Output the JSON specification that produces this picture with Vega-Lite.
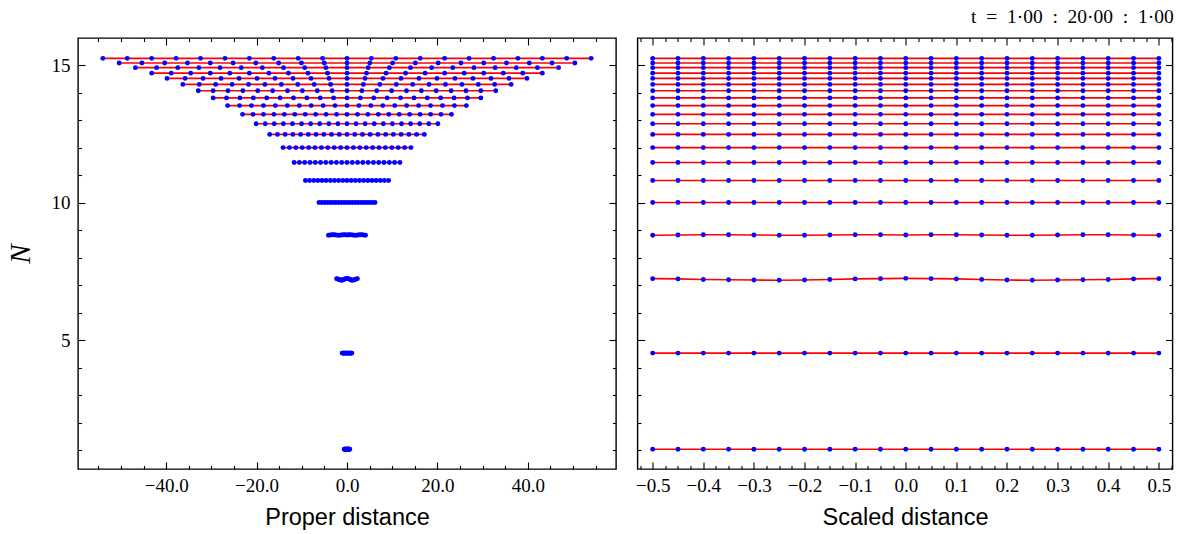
{
  "$schema": "https://vega.github.io/schema/vega-lite/v6.json",
  "padding": {"left": 5, "top": 6, "right": 6, "bottom": 4},
  "background": "white",
  "title": {"text": "t\u2002=\u20021·00\u2002:\u200220·00\u2002:\u20021·00", "anchor": "end", "font": "Liberation Serif", "fontSize": 19.5, "fontWeight": "normal", "color": "#000", "offset": 9.5},
  "config": {
    "view": {"stroke": "#000", "strokeWidth": 1.4},
    "axis": {"domain": false, "grid": false, "tickColor": "#000", "tickWidth": 1.1, "labelColor": "#000", "labelFont": "Liberation Serif", "labelFontSize": 19, "labelOverlap": false, "labelFlush": false, "titleColor": "#000"}
  },
  "data": {"values": [
    {"t":1,"s":-0.5,"p":-0.6,"n":1.03},{"t":1,"s":-0.45,"p":-0.54,"n":1.03},{"t":1,"s":-0.4,"p":-0.48,"n":1.03},{"t":1,"s":-0.35,"p":-0.42,"n":1.03},{"t":1,"s":-0.3,"p":-0.36,"n":1.03},{"t":1,"s":-0.25,"p":-0.3,"n":1.03},{"t":1,"s":-0.2,"p":-0.24,"n":1.03},{"t":1,"s":-0.15,"p":-0.18,"n":1.03},{"t":1,"s":-0.1,"p":-0.12,"n":1.03},{"t":1,"s":-0.05,"p":-0.06,"n":1.03},{"t":1,"s":0,"p":0,"n":1.03},{"t":1,"s":0.05,"p":0.06,"n":1.03},{"t":1,"s":0.1,"p":0.12,"n":1.03},{"t":1,"s":0.15,"p":0.18,"n":1.03},{"t":1,"s":0.2,"p":0.24,"n":1.03},{"t":1,"s":0.25,"p":0.3,"n":1.03},{"t":1,"s":0.3,"p":0.36,"n":1.03},{"t":1,"s":0.35,"p":0.42,"n":1.03},{"t":1,"s":0.4,"p":0.48,"n":1.03},{"t":1,"s":0.45,"p":0.54,"n":1.03},{"t":1,"s":0.5,"p":0.6,"n":1.03},
    {"t":2,"s":-0.5,"p":-1.07,"n":4.53},{"t":2,"s":-0.45,"p":-0.963,"n":4.53},{"t":2,"s":-0.4,"p":-0.856,"n":4.53},{"t":2,"s":-0.35,"p":-0.749,"n":4.53},{"t":2,"s":-0.3,"p":-0.642,"n":4.53},{"t":2,"s":-0.25,"p":-0.535,"n":4.53},{"t":2,"s":-0.2,"p":-0.428,"n":4.53},{"t":2,"s":-0.15,"p":-0.321,"n":4.53},{"t":2,"s":-0.1,"p":-0.214,"n":4.53},{"t":2,"s":-0.05,"p":-0.107,"n":4.53},{"t":2,"s":0,"p":0,"n":4.53},{"t":2,"s":0.05,"p":0.107,"n":4.53},{"t":2,"s":0.1,"p":0.214,"n":4.53},{"t":2,"s":0.15,"p":0.321,"n":4.53},{"t":2,"s":0.2,"p":0.428,"n":4.53},{"t":2,"s":0.25,"p":0.535,"n":4.53},{"t":2,"s":0.3,"p":0.642,"n":4.53},{"t":2,"s":0.35,"p":0.749,"n":4.53},{"t":2,"s":0.4,"p":0.856,"n":4.53},{"t":2,"s":0.45,"p":0.963,"n":4.53},{"t":2,"s":0.5,"p":1.07,"n":4.53},
    {"t":3,"s":-0.5,"p":-2.3,"n":7.24},{"t":3,"s":-0.45,"p":-2.07,"n":7.23},{"t":3,"s":-0.4,"p":-1.84,"n":7.21},{"t":3,"s":-0.35,"p":-1.61,"n":7.2},{"t":3,"s":-0.3,"p":-1.38,"n":7.19},{"t":3,"s":-0.25,"p":-1.15,"n":7.18},{"t":3,"s":-0.2,"p":-0.92,"n":7.19},{"t":3,"s":-0.15,"p":-0.69,"n":7.21},{"t":3,"s":-0.1,"p":-0.46,"n":7.23},{"t":3,"s":-0.05,"p":-0.23,"n":7.24},{"t":3,"s":0,"p":0,"n":7.25},{"t":3,"s":0.05,"p":0.23,"n":7.24},{"t":3,"s":0.1,"p":0.46,"n":7.23},{"t":3,"s":0.15,"p":0.69,"n":7.21},{"t":3,"s":0.2,"p":0.92,"n":7.19},{"t":3,"s":0.25,"p":1.15,"n":7.18},{"t":3,"s":0.3,"p":1.38,"n":7.19},{"t":3,"s":0.35,"p":1.61,"n":7.2},{"t":3,"s":0.4,"p":1.84,"n":7.21},{"t":3,"s":0.45,"p":2.07,"n":7.23},{"t":3,"s":0.5,"p":2.3,"n":7.24},
    {"t":4,"s":-0.5,"p":-4.1,"n":8.82},{"t":4,"s":-0.45,"p":-3.69,"n":8.83},{"t":4,"s":-0.4,"p":-3.28,"n":8.84},{"t":4,"s":-0.35,"p":-2.87,"n":8.84},{"t":4,"s":-0.3,"p":-2.46,"n":8.83},{"t":4,"s":-0.25,"p":-2.05,"n":8.82},{"t":4,"s":-0.2,"p":-1.64,"n":8.82},{"t":4,"s":-0.15,"p":-1.23,"n":8.83},{"t":4,"s":-0.1,"p":-0.82,"n":8.84},{"t":4,"s":-0.05,"p":-0.41,"n":8.84},{"t":4,"s":0,"p":0,"n":8.83},{"t":4,"s":0.05,"p":0.41,"n":8.84},{"t":4,"s":0.1,"p":0.82,"n":8.84},{"t":4,"s":0.15,"p":1.23,"n":8.83},{"t":4,"s":0.2,"p":1.64,"n":8.82},{"t":4,"s":0.25,"p":2.05,"n":8.82},{"t":4,"s":0.3,"p":2.46,"n":8.83},{"t":4,"s":0.35,"p":2.87,"n":8.84},{"t":4,"s":0.4,"p":3.28,"n":8.84},{"t":4,"s":0.45,"p":3.69,"n":8.83},{"t":4,"s":0.5,"p":4.1,"n":8.82},
    {"t":5,"s":-0.5,"p":-6.2,"n":10.01},{"t":5,"s":-0.45,"p":-5.58,"n":10.01},{"t":5,"s":-0.4,"p":-4.96,"n":10.01},{"t":5,"s":-0.35,"p":-4.34,"n":10.01},{"t":5,"s":-0.3,"p":-3.72,"n":10.01},{"t":5,"s":-0.25,"p":-3.1,"n":10.01},{"t":5,"s":-0.2,"p":-2.48,"n":10.01},{"t":5,"s":-0.15,"p":-1.86,"n":10.01},{"t":5,"s":-0.1,"p":-1.24,"n":10.01},{"t":5,"s":-0.05,"p":-0.62,"n":10.01},{"t":5,"s":0,"p":0,"n":10.01},{"t":5,"s":0.05,"p":0.62,"n":10.01},{"t":5,"s":0.1,"p":1.24,"n":10.01},{"t":5,"s":0.15,"p":1.86,"n":10.01},{"t":5,"s":0.2,"p":2.48,"n":10.01},{"t":5,"s":0.25,"p":3.1,"n":10.01},{"t":5,"s":0.3,"p":3.72,"n":10.01},{"t":5,"s":0.35,"p":4.34,"n":10.01},{"t":5,"s":0.4,"p":4.96,"n":10.01},{"t":5,"s":0.45,"p":5.58,"n":10.01},{"t":5,"s":0.5,"p":6.2,"n":10.01},
    {"t":6,"s":-0.5,"p":-9.2,"n":10.81},{"t":6,"s":-0.45,"p":-8.28,"n":10.81},{"t":6,"s":-0.4,"p":-7.36,"n":10.81},{"t":6,"s":-0.35,"p":-6.44,"n":10.81},{"t":6,"s":-0.3,"p":-5.52,"n":10.81},{"t":6,"s":-0.25,"p":-4.6,"n":10.81},{"t":6,"s":-0.2,"p":-3.68,"n":10.81},{"t":6,"s":-0.15,"p":-2.76,"n":10.81},{"t":6,"s":-0.1,"p":-1.84,"n":10.81},{"t":6,"s":-0.05,"p":-0.92,"n":10.81},{"t":6,"s":0,"p":0,"n":10.81},{"t":6,"s":0.05,"p":0.92,"n":10.81},{"t":6,"s":0.1,"p":1.84,"n":10.81},{"t":6,"s":0.15,"p":2.76,"n":10.81},{"t":6,"s":0.2,"p":3.68,"n":10.81},{"t":6,"s":0.25,"p":4.6,"n":10.81},{"t":6,"s":0.3,"p":5.52,"n":10.81},{"t":6,"s":0.35,"p":6.44,"n":10.81},{"t":6,"s":0.4,"p":7.36,"n":10.81},{"t":6,"s":0.45,"p":8.28,"n":10.81},{"t":6,"s":0.5,"p":9.2,"n":10.81},
    {"t":7,"s":-0.5,"p":-11.7,"n":11.47},{"t":7,"s":-0.45,"p":-10.53,"n":11.47},{"t":7,"s":-0.4,"p":-9.36,"n":11.47},{"t":7,"s":-0.35,"p":-8.19,"n":11.47},{"t":7,"s":-0.3,"p":-7.02,"n":11.47},{"t":7,"s":-0.25,"p":-5.85,"n":11.47},{"t":7,"s":-0.2,"p":-4.68,"n":11.47},{"t":7,"s":-0.15,"p":-3.51,"n":11.47},{"t":7,"s":-0.1,"p":-2.34,"n":11.47},{"t":7,"s":-0.05,"p":-1.17,"n":11.47},{"t":7,"s":0,"p":0,"n":11.47},{"t":7,"s":0.05,"p":1.17,"n":11.47},{"t":7,"s":0.1,"p":2.34,"n":11.47},{"t":7,"s":0.15,"p":3.51,"n":11.47},{"t":7,"s":0.2,"p":4.68,"n":11.47},{"t":7,"s":0.25,"p":5.85,"n":11.47},{"t":7,"s":0.3,"p":7.02,"n":11.47},{"t":7,"s":0.35,"p":8.19,"n":11.47},{"t":7,"s":0.4,"p":9.36,"n":11.47},{"t":7,"s":0.45,"p":10.53,"n":11.47},{"t":7,"s":0.5,"p":11.7,"n":11.47},
    {"t":8,"s":-0.5,"p":-14.15,"n":12.01},{"t":8,"s":-0.45,"p":-12.74,"n":12.01},{"t":8,"s":-0.4,"p":-11.32,"n":12.01},{"t":8,"s":-0.35,"p":-9.91,"n":12.01},{"t":8,"s":-0.3,"p":-8.49,"n":12.01},{"t":8,"s":-0.25,"p":-7.08,"n":12.01},{"t":8,"s":-0.2,"p":-5.66,"n":12.01},{"t":8,"s":-0.15,"p":-4.25,"n":12.01},{"t":8,"s":-0.1,"p":-2.83,"n":12.01},{"t":8,"s":-0.05,"p":-1.42,"n":12.01},{"t":8,"s":0,"p":0,"n":12.01},{"t":8,"s":0.05,"p":1.42,"n":12.01},{"t":8,"s":0.1,"p":2.83,"n":12.01},{"t":8,"s":0.15,"p":4.25,"n":12.01},{"t":8,"s":0.2,"p":5.66,"n":12.01},{"t":8,"s":0.25,"p":7.08,"n":12.01},{"t":8,"s":0.3,"p":8.49,"n":12.01},{"t":8,"s":0.35,"p":9.91,"n":12.01},{"t":8,"s":0.4,"p":11.32,"n":12.01},{"t":8,"s":0.45,"p":12.74,"n":12.01},{"t":8,"s":0.5,"p":14.15,"n":12.01},
    {"t":9,"s":-0.5,"p":-17.1,"n":12.49},{"t":9,"s":-0.45,"p":-15.39,"n":12.49},{"t":9,"s":-0.4,"p":-13.68,"n":12.49},{"t":9,"s":-0.35,"p":-11.97,"n":12.49},{"t":9,"s":-0.3,"p":-10.26,"n":12.49},{"t":9,"s":-0.25,"p":-8.55,"n":12.49},{"t":9,"s":-0.2,"p":-6.84,"n":12.49},{"t":9,"s":-0.15,"p":-5.13,"n":12.49},{"t":9,"s":-0.1,"p":-3.42,"n":12.49},{"t":9,"s":-0.05,"p":-1.71,"n":12.49},{"t":9,"s":0,"p":0,"n":12.49},{"t":9,"s":0.05,"p":1.71,"n":12.49},{"t":9,"s":0.1,"p":3.42,"n":12.49},{"t":9,"s":0.15,"p":5.13,"n":12.49},{"t":9,"s":0.2,"p":6.84,"n":12.49},{"t":9,"s":0.25,"p":8.55,"n":12.49},{"t":9,"s":0.3,"p":10.26,"n":12.49},{"t":9,"s":0.35,"p":11.97,"n":12.49},{"t":9,"s":0.4,"p":13.68,"n":12.49},{"t":9,"s":0.45,"p":15.39,"n":12.49},{"t":9,"s":0.5,"p":17.1,"n":12.49},
    {"t":10,"s":-0.5,"p":-20.1,"n":12.88},{"t":10,"s":-0.45,"p":-18.09,"n":12.88},{"t":10,"s":-0.4,"p":-16.08,"n":12.88},{"t":10,"s":-0.35,"p":-14.07,"n":12.88},{"t":10,"s":-0.3,"p":-12.06,"n":12.88},{"t":10,"s":-0.25,"p":-10.05,"n":12.88},{"t":10,"s":-0.2,"p":-8.04,"n":12.88},{"t":10,"s":-0.15,"p":-6.03,"n":12.88},{"t":10,"s":-0.1,"p":-4.02,"n":12.88},{"t":10,"s":-0.05,"p":-2.01,"n":12.88},{"t":10,"s":0,"p":0,"n":12.88},{"t":10,"s":0.05,"p":2.01,"n":12.88},{"t":10,"s":0.1,"p":4.02,"n":12.88},{"t":10,"s":0.15,"p":6.03,"n":12.88},{"t":10,"s":0.2,"p":8.04,"n":12.88},{"t":10,"s":0.25,"p":10.05,"n":12.88},{"t":10,"s":0.3,"p":12.06,"n":12.88},{"t":10,"s":0.35,"p":14.07,"n":12.88},{"t":10,"s":0.4,"p":16.08,"n":12.88},{"t":10,"s":0.45,"p":18.09,"n":12.88},{"t":10,"s":0.5,"p":20.1,"n":12.88},
    {"t":11,"s":-0.5,"p":-23.1,"n":13.22},{"t":11,"s":-0.45,"p":-20.79,"n":13.22},{"t":11,"s":-0.4,"p":-18.48,"n":13.22},{"t":11,"s":-0.35,"p":-16.17,"n":13.22},{"t":11,"s":-0.3,"p":-13.86,"n":13.22},{"t":11,"s":-0.25,"p":-11.55,"n":13.22},{"t":11,"s":-0.2,"p":-9.24,"n":13.22},{"t":11,"s":-0.15,"p":-6.93,"n":13.22},{"t":11,"s":-0.1,"p":-4.62,"n":13.22},{"t":11,"s":-0.05,"p":-2.31,"n":13.22},{"t":11,"s":0,"p":0,"n":13.22},{"t":11,"s":0.05,"p":2.31,"n":13.22},{"t":11,"s":0.1,"p":4.62,"n":13.22},{"t":11,"s":0.15,"p":6.93,"n":13.22},{"t":11,"s":0.2,"p":9.24,"n":13.22},{"t":11,"s":0.25,"p":11.55,"n":13.22},{"t":11,"s":0.3,"p":13.86,"n":13.22},{"t":11,"s":0.35,"p":16.17,"n":13.22},{"t":11,"s":0.4,"p":18.48,"n":13.22},{"t":11,"s":0.45,"p":20.79,"n":13.22},{"t":11,"s":0.5,"p":23.1,"n":13.22},
    {"t":12,"s":-0.5,"p":-26.4,"n":13.54},{"t":12,"s":-0.45,"p":-23.76,"n":13.54},{"t":12,"s":-0.4,"p":-21.12,"n":13.54},{"t":12,"s":-0.35,"p":-18.48,"n":13.54},{"t":12,"s":-0.3,"p":-15.84,"n":13.54},{"t":12,"s":-0.25,"p":-13.2,"n":13.54},{"t":12,"s":-0.2,"p":-10.56,"n":13.54},{"t":12,"s":-0.15,"p":-7.92,"n":13.54},{"t":12,"s":-0.1,"p":-5.28,"n":13.54},{"t":12,"s":-0.05,"p":-2.64,"n":13.54},{"t":12,"s":0,"p":0,"n":13.54},{"t":12,"s":0.05,"p":2.64,"n":13.54},{"t":12,"s":0.1,"p":5.28,"n":13.54},{"t":12,"s":0.15,"p":7.92,"n":13.54},{"t":12,"s":0.2,"p":10.56,"n":13.54},{"t":12,"s":0.25,"p":13.2,"n":13.54},{"t":12,"s":0.3,"p":15.84,"n":13.54},{"t":12,"s":0.35,"p":18.48,"n":13.54},{"t":12,"s":0.4,"p":21.12,"n":13.54},{"t":12,"s":0.45,"p":23.76,"n":13.54},{"t":12,"s":0.5,"p":26.4,"n":13.54},
    {"t":13,"s":-0.5,"p":-29.6,"n":13.82},{"t":13,"s":-0.45,"p":-26.64,"n":13.82},{"t":13,"s":-0.4,"p":-23.68,"n":13.82},{"t":13,"s":-0.35,"p":-20.72,"n":13.82},{"t":13,"s":-0.3,"p":-17.76,"n":13.82},{"t":13,"s":-0.25,"p":-14.8,"n":13.82},{"t":13,"s":-0.2,"p":-11.84,"n":13.82},{"t":13,"s":-0.15,"p":-8.88,"n":13.82},{"t":13,"s":-0.1,"p":-5.92,"n":13.82},{"t":13,"s":-0.05,"p":-2.96,"n":13.82},{"t":13,"s":0,"p":0,"n":13.82},{"t":13,"s":0.05,"p":2.96,"n":13.82},{"t":13,"s":0.1,"p":5.92,"n":13.82},{"t":13,"s":0.15,"p":8.88,"n":13.82},{"t":13,"s":0.2,"p":11.84,"n":13.82},{"t":13,"s":0.25,"p":14.8,"n":13.82},{"t":13,"s":0.3,"p":17.76,"n":13.82},{"t":13,"s":0.35,"p":20.72,"n":13.82},{"t":13,"s":0.4,"p":23.68,"n":13.82},{"t":13,"s":0.45,"p":26.64,"n":13.82},{"t":13,"s":0.5,"p":29.6,"n":13.82},
    {"t":14,"s":-0.5,"p":-32.9,"n":14.08},{"t":14,"s":-0.45,"p":-29.61,"n":14.08},{"t":14,"s":-0.4,"p":-26.32,"n":14.08},{"t":14,"s":-0.35,"p":-23.03,"n":14.08},{"t":14,"s":-0.3,"p":-19.74,"n":14.08},{"t":14,"s":-0.25,"p":-16.45,"n":14.08},{"t":14,"s":-0.2,"p":-13.16,"n":14.08},{"t":14,"s":-0.15,"p":-9.87,"n":14.08},{"t":14,"s":-0.1,"p":-6.58,"n":14.08},{"t":14,"s":-0.05,"p":-3.29,"n":14.08},{"t":14,"s":0,"p":0,"n":14.08},{"t":14,"s":0.05,"p":3.29,"n":14.08},{"t":14,"s":0.1,"p":6.58,"n":14.08},{"t":14,"s":0.15,"p":9.87,"n":14.08},{"t":14,"s":0.2,"p":13.16,"n":14.08},{"t":14,"s":0.25,"p":16.45,"n":14.08},{"t":14,"s":0.3,"p":19.74,"n":14.08},{"t":14,"s":0.35,"p":23.03,"n":14.08},{"t":14,"s":0.4,"p":26.32,"n":14.08},{"t":14,"s":0.45,"p":29.61,"n":14.08},{"t":14,"s":0.5,"p":32.9,"n":14.08},
    {"t":15,"s":-0.5,"p":-36.3,"n":14.31},{"t":15,"s":-0.45,"p":-32.67,"n":14.31},{"t":15,"s":-0.4,"p":-29.04,"n":14.31},{"t":15,"s":-0.35,"p":-25.41,"n":14.31},{"t":15,"s":-0.3,"p":-21.78,"n":14.31},{"t":15,"s":-0.25,"p":-18.15,"n":14.31},{"t":15,"s":-0.2,"p":-14.52,"n":14.31},{"t":15,"s":-0.15,"p":-10.89,"n":14.31},{"t":15,"s":-0.1,"p":-7.26,"n":14.31},{"t":15,"s":-0.05,"p":-3.63,"n":14.31},{"t":15,"s":0,"p":0,"n":14.31},{"t":15,"s":0.05,"p":3.63,"n":14.31},{"t":15,"s":0.1,"p":7.26,"n":14.31},{"t":15,"s":0.15,"p":10.89,"n":14.31},{"t":15,"s":0.2,"p":14.52,"n":14.31},{"t":15,"s":0.25,"p":18.15,"n":14.31},{"t":15,"s":0.3,"p":21.78,"n":14.31},{"t":15,"s":0.35,"p":25.41,"n":14.31},{"t":15,"s":0.4,"p":29.04,"n":14.31},{"t":15,"s":0.45,"p":32.67,"n":14.31},{"t":15,"s":0.5,"p":36.3,"n":14.31},
    {"t":16,"s":-0.5,"p":-39.8,"n":14.53},{"t":16,"s":-0.45,"p":-35.82,"n":14.53},{"t":16,"s":-0.4,"p":-31.84,"n":14.53},{"t":16,"s":-0.35,"p":-27.86,"n":14.53},{"t":16,"s":-0.3,"p":-23.88,"n":14.53},{"t":16,"s":-0.25,"p":-19.9,"n":14.53},{"t":16,"s":-0.2,"p":-15.92,"n":14.53},{"t":16,"s":-0.15,"p":-11.94,"n":14.53},{"t":16,"s":-0.1,"p":-7.96,"n":14.53},{"t":16,"s":-0.05,"p":-3.98,"n":14.53},{"t":16,"s":0,"p":0,"n":14.53},{"t":16,"s":0.05,"p":3.98,"n":14.53},{"t":16,"s":0.1,"p":7.96,"n":14.53},{"t":16,"s":0.15,"p":11.94,"n":14.53},{"t":16,"s":0.2,"p":15.92,"n":14.53},{"t":16,"s":0.25,"p":19.9,"n":14.53},{"t":16,"s":0.3,"p":23.88,"n":14.53},{"t":16,"s":0.35,"p":27.86,"n":14.53},{"t":16,"s":0.4,"p":31.84,"n":14.53},{"t":16,"s":0.45,"p":35.82,"n":14.53},{"t":16,"s":0.5,"p":39.8,"n":14.53},
    {"t":17,"s":-0.5,"p":-43.2,"n":14.72},{"t":17,"s":-0.45,"p":-38.88,"n":14.72},{"t":17,"s":-0.4,"p":-34.56,"n":14.72},{"t":17,"s":-0.35,"p":-30.24,"n":14.72},{"t":17,"s":-0.3,"p":-25.92,"n":14.72},{"t":17,"s":-0.25,"p":-21.6,"n":14.72},{"t":17,"s":-0.2,"p":-17.28,"n":14.72},{"t":17,"s":-0.15,"p":-12.96,"n":14.72},{"t":17,"s":-0.1,"p":-8.64,"n":14.72},{"t":17,"s":-0.05,"p":-4.32,"n":14.72},{"t":17,"s":0,"p":0,"n":14.72},{"t":17,"s":0.05,"p":4.32,"n":14.72},{"t":17,"s":0.1,"p":8.64,"n":14.72},{"t":17,"s":0.15,"p":12.96,"n":14.72},{"t":17,"s":0.2,"p":17.28,"n":14.72},{"t":17,"s":0.25,"p":21.6,"n":14.72},{"t":17,"s":0.3,"p":25.92,"n":14.72},{"t":17,"s":0.35,"p":30.24,"n":14.72},{"t":17,"s":0.4,"p":34.56,"n":14.72},{"t":17,"s":0.45,"p":38.88,"n":14.72},{"t":17,"s":0.5,"p":43.2,"n":14.72},
    {"t":18,"s":-0.5,"p":-46.8,"n":14.92},{"t":18,"s":-0.45,"p":-42.12,"n":14.92},{"t":18,"s":-0.4,"p":-37.44,"n":14.92},{"t":18,"s":-0.35,"p":-32.76,"n":14.92},{"t":18,"s":-0.3,"p":-28.08,"n":14.92},{"t":18,"s":-0.25,"p":-23.4,"n":14.92},{"t":18,"s":-0.2,"p":-18.72,"n":14.92},{"t":18,"s":-0.15,"p":-14.04,"n":14.92},{"t":18,"s":-0.1,"p":-9.36,"n":14.92},{"t":18,"s":-0.05,"p":-4.68,"n":14.92},{"t":18,"s":0,"p":0,"n":14.92},{"t":18,"s":0.05,"p":4.68,"n":14.92},{"t":18,"s":0.1,"p":9.36,"n":14.92},{"t":18,"s":0.15,"p":14.04,"n":14.92},{"t":18,"s":0.2,"p":18.72,"n":14.92},{"t":18,"s":0.25,"p":23.4,"n":14.92},{"t":18,"s":0.3,"p":28.08,"n":14.92},{"t":18,"s":0.35,"p":32.76,"n":14.92},{"t":18,"s":0.4,"p":37.44,"n":14.92},{"t":18,"s":0.45,"p":42.12,"n":14.92},{"t":18,"s":0.5,"p":46.8,"n":14.92},
    {"t":19,"s":-0.5,"p":-50.4,"n":15.09},{"t":19,"s":-0.45,"p":-45.36,"n":15.09},{"t":19,"s":-0.4,"p":-40.32,"n":15.09},{"t":19,"s":-0.35,"p":-35.28,"n":15.09},{"t":19,"s":-0.3,"p":-30.24,"n":15.09},{"t":19,"s":-0.25,"p":-25.2,"n":15.09},{"t":19,"s":-0.2,"p":-20.16,"n":15.09},{"t":19,"s":-0.15,"p":-15.12,"n":15.09},{"t":19,"s":-0.1,"p":-10.08,"n":15.09},{"t":19,"s":-0.05,"p":-5.04,"n":15.09},{"t":19,"s":0,"p":0,"n":15.09},{"t":19,"s":0.05,"p":5.04,"n":15.09},{"t":19,"s":0.1,"p":10.08,"n":15.09},{"t":19,"s":0.15,"p":15.12,"n":15.09},{"t":19,"s":0.2,"p":20.16,"n":15.09},{"t":19,"s":0.25,"p":25.2,"n":15.09},{"t":19,"s":0.3,"p":30.24,"n":15.09},{"t":19,"s":0.35,"p":35.28,"n":15.09},{"t":19,"s":0.4,"p":40.32,"n":15.09},{"t":19,"s":0.45,"p":45.36,"n":15.09},{"t":19,"s":0.5,"p":50.4,"n":15.09},
    {"t":20,"s":-0.5,"p":-54,"n":15.26},{"t":20,"s":-0.45,"p":-48.6,"n":15.26},{"t":20,"s":-0.4,"p":-43.2,"n":15.26},{"t":20,"s":-0.35,"p":-37.8,"n":15.26},{"t":20,"s":-0.3,"p":-32.4,"n":15.26},{"t":20,"s":-0.25,"p":-27,"n":15.26},{"t":20,"s":-0.2,"p":-21.6,"n":15.26},{"t":20,"s":-0.15,"p":-16.2,"n":15.26},{"t":20,"s":-0.1,"p":-10.8,"n":15.26},{"t":20,"s":-0.05,"p":-5.4,"n":15.26},{"t":20,"s":0,"p":0,"n":15.26},{"t":20,"s":0.05,"p":5.4,"n":15.26},{"t":20,"s":0.1,"p":10.8,"n":15.26},{"t":20,"s":0.15,"p":16.2,"n":15.26},{"t":20,"s":0.2,"p":21.6,"n":15.26},{"t":20,"s":0.25,"p":27,"n":15.26},{"t":20,"s":0.3,"p":32.4,"n":15.26},{"t":20,"s":0.35,"p":37.8,"n":15.26},{"t":20,"s":0.4,"p":43.2,"n":15.26},{"t":20,"s":0.45,"p":48.6,"n":15.26},{"t":20,"s":0.5,"p":54,"n":15.26}
  ]},
  "spacing": 16.5,
  "hconcat": [
    {
      "width": 538,
      "height": 431,
      "resolve": {"axis": {"x": "independent", "y": "independent"}},
      "layer": [
        {
          "mark": {"type": "line", "color": "#ff0000", "strokeWidth": 1.6},
          "encoding": {
            "x": {"field": "p", "type": "quantitative", "scale": {"domain": [-59.5, 59.5], "nice": false, "zero": false},
              "axis": {"orient": "bottom", "values": [-40, -20, 0, 20, 40], "format": ".1f", "tickSize": -7,
                "labelPadding": 14, "title": "Proper distance", "titleFont": "Liberation Sans", "titleFontSize": 23.5, "titleFontWeight": "normal", "titlePadding": 10}},
            "y": {"field": "n", "type": "quantitative", "scale": {"domain": [0.31, 16.0], "nice": false, "zero": false},
              "axis": {"orient": "left", "values": [5, 10, 15], "format": "d", "tickSize": -7,
                "labelPadding": 15, "title": "N", "titleFont": "Liberation Serif", "titleFontStyle": "italic", "titleFontSize": 29, "titleFontWeight": "normal", "titlePadding": 16}},
            "detail": {"field": "t", "type": "nominal"},
            "order": {"field": "s", "type": "quantitative"}
          }
        },
        {
          "mark": {"type": "circle", "color": "#0000ff", "size": 24, "opacity": 1},
          "encoding": {
            "x": {"field": "p", "type": "quantitative",
              "axis": {"orient": "top", "values": [-40, -20, 0, 20, 40], "labels": false, "title": null, "tickSize": -7}},
            "y": {"field": "n", "type": "quantitative",
              "axis": {"orient": "right", "values": [5, 10, 15], "labels": false, "title": null, "tickSize": -7}}
          }
        },
        {
          "mark": {"type": "point", "opacity": 0},
          "encoding": {
            "x": {"field": "p", "type": "quantitative",
              "axis": {"orient": "bottom", "values": [-55,-50,-45,-35,-30,-25,-15,-10,-5,5,10,15,25,30,35,45,50,55], "labels": false, "title": null, "tickSize": -3.5}},
            "y": {"field": "n", "type": "quantitative",
              "axis": {"orient": "left", "values": [1,2,3,4,6,7,8,9,11,12,13,14], "labels": false, "title": null, "tickSize": -3.5}}
          }
        },
        {
          "mark": {"type": "point", "opacity": 0},
          "encoding": {
            "x": {"field": "p", "type": "quantitative",
              "axis": {"orient": "top", "values": [-55,-50,-45,-35,-30,-25,-15,-10,-5,5,10,15,25,30,35,45,50,55], "labels": false, "title": null, "tickSize": -3.5}},
            "y": {"field": "n", "type": "quantitative",
              "axis": {"orient": "right", "values": [1,2,3,4,6,7,8,9,11,12,13,14], "labels": false, "title": null, "tickSize": -3.5}}
          }
        }
      ]
    },
    {
      "width": 535,
      "height": 431,
      "resolve": {"axis": {"x": "independent", "y": "independent"}},
      "layer": [
        {
          "mark": {"type": "line", "color": "#ff0000", "strokeWidth": 1.6},
          "encoding": {
            "x": {"field": "s", "type": "quantitative", "scale": {"domain": [-0.53, 0.527], "nice": false, "zero": false},
              "axis": {"orient": "bottom", "values": [-0.5,-0.4,-0.3,-0.2,-0.1,0,0.1,0.2,0.3,0.4,0.5], "format": ".1f", "tickSize": -7,
                "labelPadding": 14, "title": "Scaled distance", "titleFont": "Liberation Sans", "titleFontSize": 23.5, "titleFontWeight": "normal", "titlePadding": 10}},
            "y": {"field": "n", "type": "quantitative", "scale": {"domain": [0.31, 16.0], "nice": false, "zero": false},
              "axis": {"orient": "left", "values": [5, 10, 15], "labels": false, "title": null, "tickSize": -7}},
            "detail": {"field": "t", "type": "nominal"},
            "order": {"field": "s", "type": "quantitative"}
          }
        },
        {
          "mark": {"type": "circle", "color": "#0000ff", "size": 24, "opacity": 1},
          "encoding": {
            "x": {"field": "s", "type": "quantitative",
              "axis": {"orient": "top", "values": [-0.5,-0.4,-0.3,-0.2,-0.1,0,0.1,0.2,0.3,0.4,0.5], "labels": false, "title": null, "tickSize": -7}},
            "y": {"field": "n", "type": "quantitative",
              "axis": {"orient": "right", "values": [5, 10, 15], "labels": false, "title": null, "tickSize": -7}}
          }
        },
        {
          "mark": {"type": "point", "opacity": 0},
          "encoding": {
            "x": {"field": "s", "type": "quantitative",
              "axis": {"orient": "bottom", "values": [-0.525,-0.475,-0.45,-0.425,-0.375,-0.35,-0.325,-0.275,-0.25,-0.225,-0.175,-0.15,-0.125,-0.075,-0.05,-0.025,0.025,0.05,0.075,0.125,0.15,0.175,0.225,0.25,0.275,0.325,0.35,0.375,0.425,0.45,0.475,0.525], "labels": false, "title": null, "tickSize": -3.5}},
            "y": {"field": "n", "type": "quantitative",
              "axis": {"orient": "left", "values": [1,2,3,4,6,7,8,9,11,12,13,14], "labels": false, "title": null, "tickSize": -3.5}}
          }
        },
        {
          "mark": {"type": "point", "opacity": 0},
          "encoding": {
            "x": {"field": "s", "type": "quantitative",
              "axis": {"orient": "top", "values": [-0.525,-0.475,-0.45,-0.425,-0.375,-0.35,-0.325,-0.275,-0.25,-0.225,-0.175,-0.15,-0.125,-0.075,-0.05,-0.025,0.025,0.05,0.075,0.125,0.15,0.175,0.225,0.25,0.275,0.325,0.35,0.375,0.425,0.45,0.475,0.525], "labels": false, "title": null, "tickSize": -3.5}},
            "y": {"field": "n", "type": "quantitative",
              "axis": {"orient": "right", "values": [1,2,3,4,6,7,8,9,11,12,13,14], "labels": false, "title": null, "tickSize": -3.5}}
          }
        }
      ]
    }
  ]
}
